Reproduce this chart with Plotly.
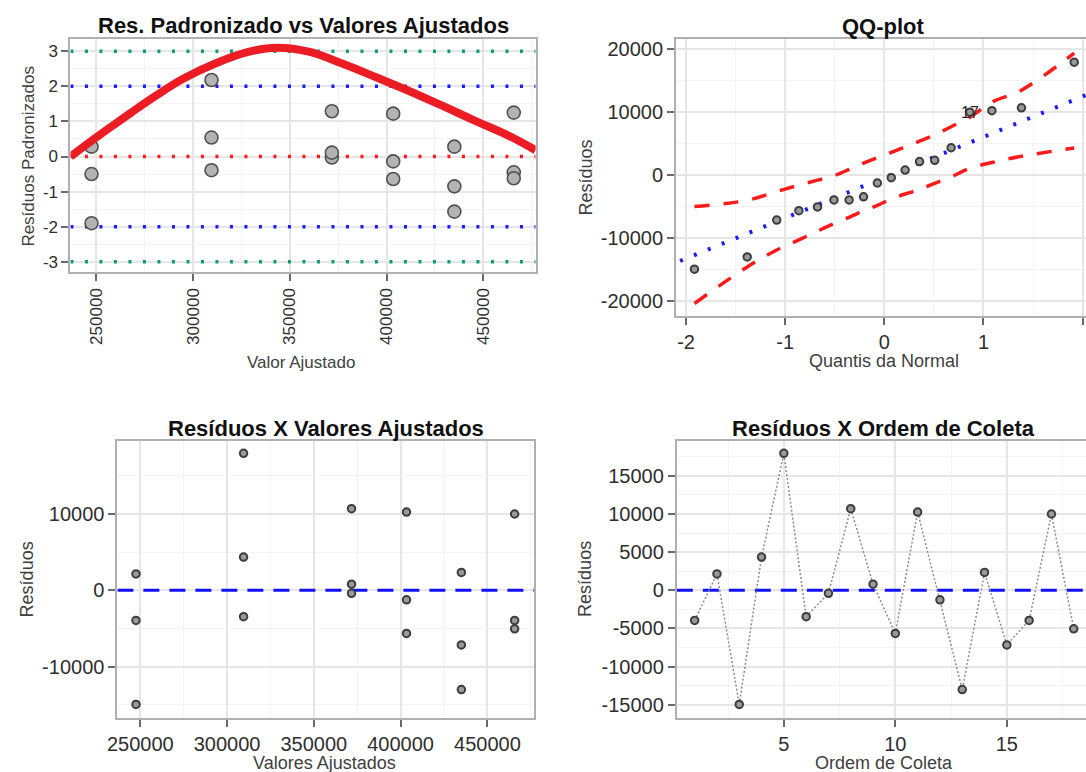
import plotly.graph_objects as go

# ---- data -------------------------------------------------------------
fitted_levels = [247500, 309500, 371700, 403400, 435000, 465700]
obs_order = list(range(1, 19))
residuals = [-3950, 2150, -14950, 4350, 17950, -3450, -400, 10700, 800,
             -5650, 10250, -1250, -13000, 2350, -7150, -3950, 10000, -5050]
std_residuals = [-0.50, 0.28, -1.90, 0.54, 2.18, -0.39, -0.03, 1.29, 0.11,
                 -0.64, 1.22, -0.14, -1.57, 0.28, -0.85, -0.45, 1.25, -0.62]

# smooth trend over standardized residuals
trend_x = [236700, 247400, 258000, 268000, 281000, 294350, 311450, 328500,
           343200, 360300, 377400, 394900, 411900, 429000, 446100, 463200, 477000]
trend_y = [0.0, 0.44, 0.86, 1.25, 1.74, 2.20, 2.65, 2.98,
           3.10, 2.98, 2.64, 2.25, 1.86, 1.44, 1.01, 0.59, 0.18]
ref_lines = [3, 2, 0, -2, -3]
ref_colors = ["#0a9e6e", "#1a1aff", "#ff1a1a", "#1a1aff", "#0a9e6e"]

# normal quantiles and confidence envelope
normal_q = [-1.915, -1.383, -1.085, -0.862, -0.674, -0.508, -0.355, -0.210, -0.070,
            0.070, 0.210, 0.355, 0.508, 0.674, 0.862, 1.085, 1.383, 1.915]
env_upper = [-5000, -4000, -2600, -1600, -800, -100, 900, 1900, 2800,
             3600, 4500, 5400, 6400, 7700, 9200, 11600, 13500, 19400]
env_lower = [-20400, -14600, -11900, -10300, -8900, -7700, -6700, -5700, -4800,
             -3800, -3000, -2300, -1300, -300, 1100, 2000, 3000, 4300]
qqline_x = [-2.2, 2.2]
qqline_y = [-14550, 13790]
qq_label = "17"

# tick labels
tl_xticks = [250000, 300000, 350000, 400000, 450000]
tl_xtext = ["250000", "300000", "350000", "400000", "450000"]
tl_yticks = [-3, -2, -1, 0, 1, 2, 3]
tl_ytext = ["-3", "-2", "-1", "0", "1", "2", "3"]
qq_xticks = [-2, -1, 0, 1, 2]
qq_xtext = ["-2", "-1", "0", "1", "2"]
qq_yticks = [-20000, -10000, 0, 10000, 20000]
qq_ytext = ["-20000", "-10000", "0", "10000", "20000"]
bl_yticks = [-10000, 0, 10000]
bl_ytext = ["-10000", "0", "10000"]
br_xticks = [5, 10, 15]
br_xtext = ["5", "10", "15"]
br_yticks = [-15000, -10000, -5000, 0, 5000, 10000, 15000]
br_ytext = ["-15000", "-10000", "-5000", "0", "5000", "10000", "15000"]

# axis ranges
tl_xrange = [236600, 477000]
tl_yrange = [-3.30, 3.34]
qq_xrange = [-2.10, 2.034]
qq_yrange = [-22330, 21600]
bl_xrange = [236800, 477100]
res_yrange = [-16700, 19600]
br_xrange = [0.2, 18.55]

# ---- layout helpers -----------------------------------------------------
W, H = 1086, 772
FONT = "Liberation Sans, Arial, sans-serif"


def xd(a, b):
    return [a / W, min(b / W, 1.0)]


def yd(top, bottom):
    return [1 - bottom / H, 1 - top / H]


fitted = [fitted_levels[(i - 1) // 3] for i in obs_order]
qq_sample = sorted(residuals)

fig = go.Figure()


def hline(y, xr, color, width, dash, xa, ya):
    fig.add_trace(go.Scatter(x=xr, y=[y, y], mode="lines",
                             line=dict(color=color, width=width, dash=dash),
                             xaxis=xa, yaxis=ya, showlegend=False, hoverinfo="skip"))


# panel 1: standardized residuals vs fitted
for v, c in zip(ref_lines, ref_colors):
    hline(v, tl_xrange, c, 3.5, "3px,11.5px", "x", "y")
fig.add_trace(go.Scatter(x=fitted, y=std_residuals, mode="markers",
                         marker=dict(size=13, color="#b3b3b3",
                                     line=dict(color="#505050", width=1.6)),
                         xaxis="x", yaxis="y", showlegend=False))
fig.add_trace(go.Scatter(x=trend_x, y=trend_y, mode="lines",
                         line=dict(color="#ec1c24", width=8, shape="spline", smoothing=1.0),
                         xaxis="x", yaxis="y", showlegend=False))

# panel 2: QQ plot
fig.add_trace(go.Scatter(x=normal_q, y=env_upper, mode="lines",
                         line=dict(color="#ff1a1a", width=3.5, dash="15px,14px", shape="spline"),
                         xaxis="x2", yaxis="y2", showlegend=False))
fig.add_trace(go.Scatter(x=normal_q, y=env_lower, mode="lines",
                         line=dict(color="#ff1a1a", width=3.5, dash="15px,14px", shape="spline"),
                         xaxis="x2", yaxis="y2", showlegend=False))
fig.add_trace(go.Scatter(x=qqline_x, y=qqline_y, mode="lines",
                         line=dict(color="#1a1aff", width=4, dash="3px,12px"),
                         xaxis="x2", yaxis="y2", showlegend=False))
fig.add_trace(go.Scatter(x=normal_q, y=qq_sample, mode="markers",
                         marker=dict(size=7.5, color="#9a9a9a",
                                     line=dict(color="#3d3d3d", width=2)),
                         xaxis="x2", yaxis="y2", showlegend=False))

# panel 3: residuals vs fitted
hline(0, bl_xrange, "#1010ff", 3, "16px,10px", "x3", "y3")
fig.add_trace(go.Scatter(x=fitted, y=residuals, mode="markers",
                         marker=dict(size=7.5, color="#9a9a9a",
                                     line=dict(color="#3d3d3d", width=2)),
                         xaxis="x3", yaxis="y3", showlegend=False))

# panel 4: residuals vs collection order
hline(0, br_xrange, "#1010ff", 3, "16px,10px", "x4", "y4")
fig.add_trace(go.Scatter(x=obs_order, y=residuals, mode="lines",
                         line=dict(color="#8c8c8c", width=1.5, dash="2px,2px"),
                         xaxis="x4", yaxis="y4", showlegend=False))
fig.add_trace(go.Scatter(x=obs_order, y=residuals, mode="markers",
                         marker=dict(size=7.5, color="#9a9a9a",
                                     line=dict(color="#3d3d3d", width=2)),
                         xaxis="x4", yaxis="y4", showlegend=False))


def axis(domain, rng, tickvals, ticktext, minor_vals, size, mirror=True, **kw):
    return dict(domain=domain, range=rng, tickmode="array", tickvals=tickvals,
                ticktext=ticktext, showline=True, linecolor="#b0b0b0", linewidth=2,
                mirror=mirror, ticks="outside", ticklen=7, tickwidth=2, tickcolor="#6a6a6a",
                showgrid=True, gridcolor="#e6e6e6", gridwidth=1.5, zeroline=False,
                tickfont=dict(family=FONT, size=size, color="#2e2e2e"),
                minor=dict(tickmode="array", tickvals=minor_vals, showgrid=True,
                           gridcolor="#f3f3f3", gridwidth=1, ticks=""),
                fixedrange=True, **kw)


layout = dict(
    width=W, height=H, margin=dict(l=0, r=0, t=0, b=0),
    paper_bgcolor="white", plot_bgcolor="white", showlegend=False,
    xaxis=axis(xd(61, 530.5), tl_xrange, tl_xticks, tl_xtext,
               [275000, 325000, 375000, 425000, 475000], 17, anchor="y", tickangle=-90),
    yaxis=axis(yd(38.3, 271.7), tl_yrange, tl_yticks, tl_ytext,
               [-2.5, -1.5, -0.5, 0.5, 1.5, 2.5], 17, anchor="x"),
    xaxis2=axis(xd(672.3, W), qq_xrange, qq_xticks, qq_xtext,
                [-1.5, -0.5, 0.5, 1.5], 20, anchor="y2"),
    yaxis2=axis(yd(38.3, 315), qq_yrange, qq_yticks, qq_ytext,
                [-15000, -5000, 5000, 15000], 20, mirror=False, anchor="x2"),
    xaxis3=axis(xd(108.4, 529.3), bl_xrange, tl_xticks, tl_xtext,
                [275000, 325000, 375000, 425000, 475000], 20, anchor="y3"),
    yaxis3=axis(yd(440.3, 717.7), res_yrange, bl_yticks, bl_ytext,
                [-15000, -5000, 5000, 15000], 20, anchor="x3"),
    xaxis4=axis(xd(673, W), br_xrange, br_xticks, br_xtext,
                [2.5, 7.5, 12.5, 17.5], 20, anchor="y4"),
    yaxis4=axis(yd(440.3, 717.7), res_yrange, br_yticks, br_ytext,
                [-12500, -7500, -2500, 2500, 7500, 12500, 17500], 20, mirror=False, anchor="x4"),
)


def text(x, y, s, size, bold=False, color="#404040", angle=0):
    return dict(x=x / W, y=1 - y / H, xref="paper", yref="paper", text=f"<b>{s}</b>" if bold else s,
                showarrow=False, xanchor="center", yanchor="middle", textangle=angle,
                font=dict(family=FONT, size=size, color=color))


annotations = [
    text(295.8, 25, "Res. Padronizado vs Valores Ajustados", 22, True, "#111111"),
    text(882, 26, "QQ-plot", 22, True, "#111111"),
    text(318.9, 427.7, "Resíduos X Valores Ajustados", 22, True, "#111111"),
    text(882, 427.7, "Resíduos X Ordem de Coleta", 22, True, "#111111"),
    text(294, 361.7, "Valor Ajustado", 17),
    text(19, 155, "Resíduos Padronizados", 17, angle=-90),
    text(882, 360, "Quantis da Normal", 18),
    text(581, 177, "Resíduos", 18, angle=-90),
    text(317, 762.7, "Valores Ajustados", 18),
    text(17.3, 579, "Resíduos", 18, angle=-90),
    text(882, 762.7, "Ordem de Coleta", 18),
    text(581, 579, "Resíduos", 18, angle=-90),
    dict(x=normal_q[14], y=qq_sample[14], xref="x2", yref="y2", text=qq_label,
         showarrow=False, xanchor="center", yanchor="middle",
         font=dict(family=FONT, size=16, color="#2a2a2a")),
]
layout["annotations"] = annotations

fig.update_layout(**layout)
fig.write_html("out.html")
